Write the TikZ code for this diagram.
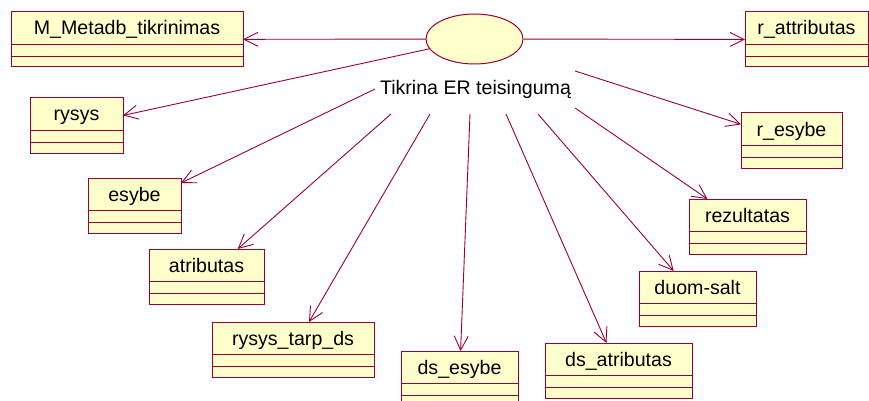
\documentclass[tikz,border=0pt]{standalone}
\usepackage{fontspec}
\setmainfont{Liberation Sans}
\usetikzlibrary{arrows.meta,shapes.geometric,calc}
\definecolor{umlline}{RGB}{153,0,51}
\definecolor{umlfill}{RGB}{255,255,204}

% class box: #1 name, #2 left, #3 top, #4 width, #5 class name
\newcommand\classbox[5]{%
  \node[cbox, minimum width=#4pt, anchor=north west] (#1) at (#2,#3) {};
  \node[ctext, anchor=base] (#1-t) at ([yshift=-23pt]#1.north) {#5};
  \draw[cdiv] ([yshift=-32.5pt]#1.north west) -- ([yshift=-32.5pt]#1.north east)
              ([yshift=-44.5pt]#1.north west) -- ([yshift=-44.5pt]#1.north east);
}

\begin{document}
\begin{tikzpicture}[x=1pt,y=-1pt,
  cbox/.style={draw=umlline, fill=umlfill, line width=1pt, rectangle,
    minimum height=55pt, inner sep=0pt, outer sep=0pt},
  ctext/.style={font=\fontsize{19.6}{23}\selectfont, inner sep=0pt, text=black},
  cdiv/.style={draw=umlline, line width=0.9pt},
  assoc/.style={draw=umlline, line width=0.9pt,
    -{Straight Barb[length=14pt,width=14pt,line width=0.9pt]}},
]
\useasboundingbox (0,0) rectangle (869,401);
\clip (0,0) rectangle (869,401);

% use case
\node[ellipse, draw=umlline, fill=umlfill, line width=1pt,
      minimum width=97pt, minimum height=50pt, inner sep=0pt] (uc) at (474.5,39) {};
\node[ctext, anchor=base] (lbl) at (475.5,95) {Tikrina ER teisingumą};

% classes
\classbox{mmeta}{11}{12}{232}{M\_Metadb\_tikrinimas}
\classbox{rattr}{745}{12}{123}{r\_attributas}
\classbox{rysys}{30}{98}{93}{rysys}
\classbox{esybe}{88}{178}{93}{esybe}
\classbox{atributas}{149}{249}{115}{atributas}
\classbox{rtds}{212}{322}{162}{rysys\_tarp\_ds}
\classbox{dsesybe}{401}{351}{117}{ds\_esybe}
\classbox{dsattr}{545}{343}{147}{ds\_atributas}
\classbox{duom}{639}{271}{117}{duom-salt}
\classbox{rez}{689}{199}{117}{rezultatas}
\classbox{resybe}{741}{113}{101}{r\_esybe}

% connector start points around the label
\coordinate (s-esybe) at ($(lbl.base)+(-100.5,-6)$);
\coordinate (s-atr)   at ($(lbl.base)+(-84.5,19)$);
\coordinate (s-rtds)  at ($(lbl.base)+(-45.5,19)$);
\coordinate (s-dse)   at ($(lbl.base)+(-5.5,19)$);
\coordinate (s-dsa)   at ($(lbl.base)+(30.5,19)$);
\coordinate (s-duom)  at ($(lbl.base)+(62.5,19)$);
\coordinate (s-rez)   at ($(lbl.base)+(99.5,13)$);
\coordinate (s-rese)  at ($(lbl.base)+(99.5,-24)$);

% associations
\draw[assoc] (uc) -- (mmeta);
\draw[assoc] (uc) -- (rattr);
\draw[assoc] (uc) -- (rysys);
\draw[assoc] (s-esybe) -- (esybe);
\draw[assoc] (s-atr) -- (atributas);
\draw[assoc] (s-rtds) -- (rtds);
\draw[assoc] (s-dse) -- (dsesybe);
\draw[assoc] (s-dsa) -- (dsattr);
\draw[assoc] (s-duom) -- (duom);
\draw[assoc] (s-rez) -- (rez);
\draw[assoc] (s-rese) -- (resybe);
\end{tikzpicture}
\end{document}
